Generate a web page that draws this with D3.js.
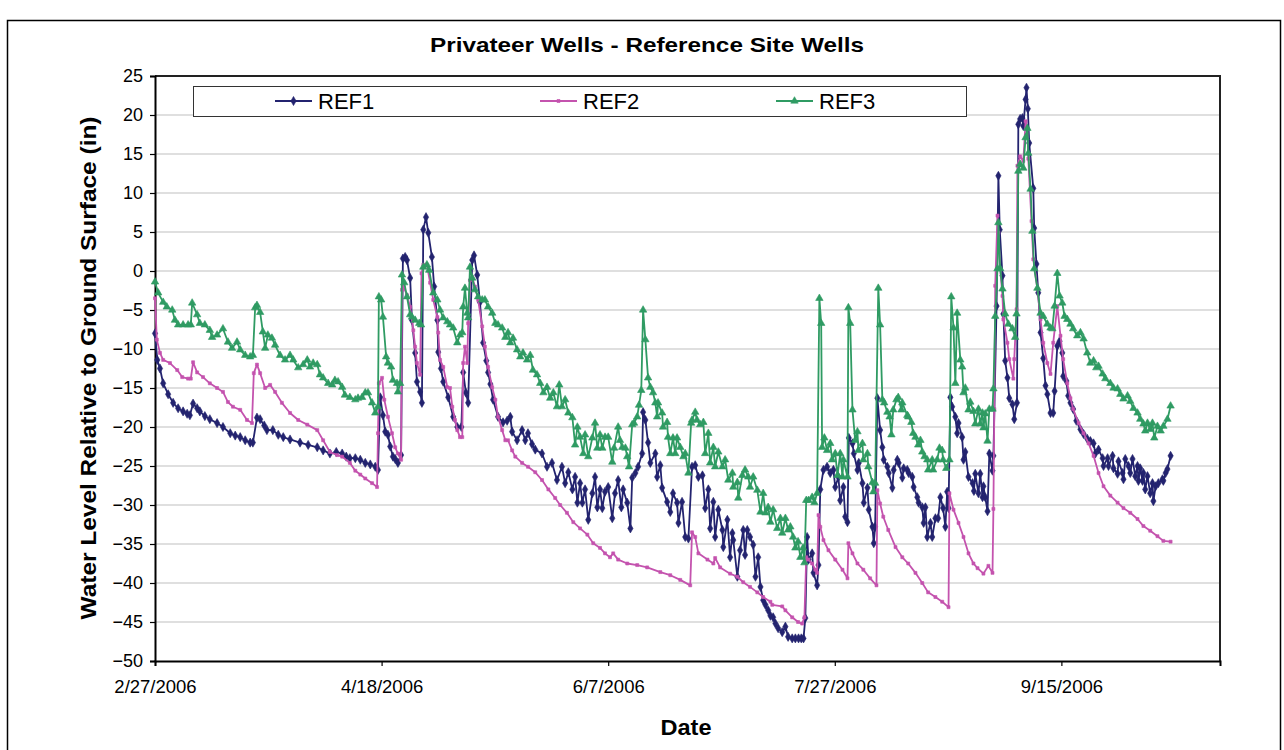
<!DOCTYPE html>
<html><head><meta charset="utf-8">
<script src="https://cdn.jsdelivr.net/npm/d3@7"></script>
<style>body{margin:0;background:#fff} svg{display:block} text{font-family:Arial,"Liberation Sans",sans-serif;fill:#000}</style>
</head><body><svg id="c" width="1284" height="750"></svg>
<script>
// ---- data (day offset from start date, water level in inches) ----
const startDate = "2006-02-27";
const endDay = 235;
const xTickDays = [0, 50, 100, 150, 200];
const yTicks = [25, 20, 15, 10, 5, 0, -5, -10, -15, -20, -25, -30, -35, -40, -45, -50];
const seriesNames = ["REF1", "REF2", "REF3"];
const seriesColors = ["#23236f", "#c453ae", "#2f9b63"];

const ref1 = [[0,-8],[0.5,-11.4],[1.1,-12.5],[1.8,-14.4],[2.9,-15.8],[4,-16.9],[5.1,-17.6],[6.2,-18],[7.1,-18.3],[7.7,-18.5],[8.4,-17],[9.3,-17.6],[9.9,-18],[11,-18.6],[12.1,-19],[13.7,-19.5],[15,-20],[16.6,-20.8],[17.7,-21.1],[18.8,-21.3],[19.9,-21.7],[21,-22],[21.6,-22],[22.5,-18.8],[23.2,-19],[24.1,-19.8],[24.7,-20.4],[26,-20.4],[27.2,-21],[28.3,-21.3],[29.8,-21.6],[32,-22],[33.8,-22.3],[35.8,-22.6],[37.1,-23],[38.6,-23.4],[40,-23.2],[41.3,-23.4],[42.2,-23.8],[43,-24],[44.2,-24],[45.3,-24.2],[46.4,-24.6],[47.5,-24.8],[48.6,-25.1],[49.2,-25.5],[49.7,-16.2],[50.3,-18.5],[50.8,-20.6],[51.4,-21],[51.9,-22.5],[52.5,-23.8],[53,-24.1],[53.6,-24.6],[54.3,-23.6],[54.7,1.6],[55.2,1.8],[55.6,1.4],[56.3,-0.9],[56.7,-6.3],[57.4,-10.5],[57.8,-14.2],[58.5,-15.5],[58.9,-16.9],[59.2,5.3],[59.8,6.9],[60.3,4.9],[61.1,1.8],[61.6,-2],[62.3,-6.3],[62.5,-10.4],[63.1,-12.5],[63.6,-14.2],[64.7,-16.2],[65.8,-18.7],[66.7,-20],[67.6,-20],[68,-13],[68.6,-15.6],[69.1,-16.9],[70,1.4],[70.4,2],[71.1,-0.5],[71.7,-4],[72.4,-9.2],[73.1,-11.5],[73.5,-13],[74,-14.5],[74.6,-16.5],[75.7,-18.7],[76.8,-19.4],[77.7,-19.2],[78.4,-18.7],[78.8,-20.6],[79.9,-21.7],[81,-20.4],[81.7,-21.7],[82.3,-20.8],[83.2,-22.2],[83.9,-22.9],[85.4,-23.4],[86.5,-25.1],[87.6,-24.6],[88.7,-26.8],[89.8,-25.1],[90.5,-27.2],[91.2,-25.8],[92.1,-28],[92.7,-26.4],[93.2,-29.7],[93.8,-27.2],[94.3,-29.7],[94.9,-28],[95.6,-31.9],[96.5,-28.5],[97.1,-26.4],[97.6,-30.3],[98.2,-28],[98.7,-30.4],[99.3,-28.3],[100,-27.7],[100.9,-31.7],[101.5,-28.5],[102.2,-26.8],[102.9,-30.3],[103.3,-28],[104.2,-29.7],[104.9,-33],[105.3,-26.5],[106,-25.9],[106.6,-25.1],[107.5,-23.4],[107.7,-18.1],[108.2,-19.1],[108.8,-22],[109.3,-24.6],[110.4,-23.4],[110.8,-26.4],[111.5,-24.9],[111.9,-27.8],[113,-29.6],[113.7,-30.9],[114.3,-28.5],[115.2,-29.7],[115.5,-32.3],[116.3,-29.6],[117,-34.1],[117.7,-34.3],[118.5,-25.1],[119.2,-24.9],[119.9,-26.4],[120.8,-26.2],[121.4,-30.4],[122.1,-28],[122.5,-33],[123.2,-29.6],[123.6,-34.1],[124.3,-30.6],[125.2,-33.2],[125.4,-35.4],[126.3,-31.9],[126.9,-36.7],[127.4,-33.6],[127.6,-34.5],[128.5,-39.2],[129.1,-35.8],[129.8,-33.2],[130.2,-36.4],[130.7,-33.2],[131.3,-34.1],[132,-35.1],[132.5,-39.2],[133.1,-36.7],[133.6,-40.5],[134.2,-42.2],[134.7,-42.8],[135.3,-43.5],[135.8,-44.2],[136.4,-44.4],[136.9,-45.2],[137.5,-45.8],[138.4,-46.3],[139.1,-45.6],[139.7,-46.9],[140.6,-47.1],[141.3,-47.1],[142,-47.1],[142.6,-47.1],[143.1,-47.1],[143.5,-44.5],[143.9,-34.1],[144.2,-37],[145,-36.2],[145.3,-38.7],[146.1,-40.3],[146.4,-37.7],[146.8,-28],[147.5,-25.5],[148.3,-25.1],[149,-25.9],[149.7,-25.5],[150.1,-27.7],[150.8,-26.4],[151.2,-29.4],[151.9,-27.7],[152.3,-31.5],[152.8,-32.2],[153.1,-21.4],[153.9,-22.1],[154.2,-23.4],[155,-25.5],[155.3,-24.6],[156.1,-27.2],[156.4,-29.7],[157.2,-27.8],[157.5,-30.6],[158.3,-32.8],[158.6,-34.9],[158.9,-32.8],[159.4,-16.3],[160,-20.4],[160.5,-22.6],[160.8,-24.2],[161.6,-25.1],[161.9,-25.9],[162.7,-27.8],[163,-25.5],[163.8,-24.2],[164.1,-24.6],[164.9,-26.5],[165.2,-25.3],[166,-25.5],[166.3,-25.9],[167.1,-26.4],[167.4,-27.7],[168.2,-29],[168.5,-29.7],[169.3,-30.3],[169.6,-32.3],[170,-30.3],[170.4,-34.1],[171.1,-32.3],[171.5,-34.1],[172.2,-31.7],[172.8,-31.7],[173.3,-29],[173.9,-30.4],[174.4,-32.8],[174.8,-28.3],[175.1,-30.4],[175.5,-16.2],[175.9,-17.4],[176.6,-18.7],[177,-20.8],[177.3,-19.5],[178.1,-21.3],[178.4,-24.2],[178.8,-23.2],[179.5,-26.4],[180.4,-27.2],[180.7,-28.2],[181,-26],[181.7,-28.5],[182.1,-26],[182.6,-29],[182.8,-27.6],[183.2,-29],[183.7,-30.8],[184.1,-23.4],[184.8,-25.6],[185,-23.7],[185.7,-4.5],[186.1,12.2],[186.4,5.3],[187,-0.6],[187.2,-5.5],[187.6,-11.5],[188.1,-13.7],[188.5,-16.3],[189.2,-17.1],[189.6,-19],[190.2,-16.9],[190.5,18.8],[190.9,19.5],[191.4,19.6],[191.6,18.6],[192.1,22],[192.3,23.5],[192.6,20.8],[192.9,16.4],[193.8,10.6],[194,5.5],[194.5,0.9],[194.9,-2.8],[195.4,-7.9],[196,-11.2],[196.5,-14.7],[196.9,-15.8],[197.6,-18.2],[198.2,-18.2],[198.5,-15.4],[199.1,-9.6],[199.6,-9],[200.2,-10.5],[200.4,-13.5],[201.1,-14.1],[201.5,-16],[202,-16.9],[202.6,-17.7],[203.3,-19.2],[204.2,-20.3],[204.9,-20.9],[205.7,-21.5],[206.4,-21.8],[207.1,-22.1],[207.5,-23.4],[208.2,-22.9],[209.1,-24],[209.3,-25],[210.2,-24],[210.4,-25],[211.3,-23.7],[211.5,-25.3],[212.4,-26],[212.6,-24.4],[213.5,-25.9],[213.7,-26.7],[214.1,-24.1],[214.8,-25],[215.2,-25.9],[215.7,-24.1],[216.3,-26.3],[216.8,-25],[217,-26.9],[217.4,-25.3],[217.9,-26.9],[218.1,-25.9],[218.5,-28],[219,-26.3],[219.6,-28.5],[220.1,-27.2],[220.3,-29.5],[220.8,-27.6],[221.4,-27.2],[222.3,-26.7],[222.5,-26.9],[223,-25.9],[223.4,-25.4],[224.1,-23.7]];

const ref2 = [[0,-3.5],[0.4,-8.8],[1.1,-10.5],[1.8,-11.4],[3.3,-11.8],[4.9,-12.7],[6,-13.6],[7.3,-13.8],[7.9,-13.8],[8.4,-11.7],[9.3,-13],[10.6,-13.6],[12.1,-14.4],[13.7,-15],[15,-15.5],[16.1,-16.8],[17.2,-17.4],[18.8,-17.8],[20.3,-19.1],[21.4,-19.5],[21.8,-13.1],[22.5,-12],[23.2,-13.1],[24.3,-15],[25.4,-14.6],[26.5,-15.5],[28,-16.9],[29.8,-18.2],[31.6,-19.1],[33.6,-19.7],[35.8,-20.4],[37.1,-21.7],[38.6,-23.2],[40.2,-23.6],[41.3,-23.8],[43,-24.6],[44.2,-25.6],[45.3,-26.1],[46.4,-26.6],[47.9,-27.2],[49,-27.7],[49.2,-20.8],[49.4,-14.4],[50.1,-13.7],[50.6,-16.5],[51.4,-18.7],[52.3,-20.8],[53,-22.6],[53.6,-23.4],[54.3,-24.2],[54.5,-2.4],[54.7,-1.8],[55.6,-3.1],[56.3,-4.6],[57,-7.6],[57.4,-9.7],[57.8,-11.8],[58.5,-13.3],[58.8,-0.3],[59.2,0.8],[60,0.8],[60.7,-1.5],[61.4,-3.7],[62.3,-5.9],[62.5,-7.9],[62.9,-11.4],[63.6,-12.3],[64.5,-14.9],[65.1,-15],[65.6,-17.4],[66.2,-19.1],[66.7,-20.4],[67.3,-21.3],[67.8,-21.3],[68,-11.8],[68.4,-9.7],[68.9,-11.8],[69.1,-6.7],[69.5,-1.2],[70,-0.8],[70.6,-2],[71.3,-3.7],[72.2,-7.1],[72.8,-9.7],[73.5,-12.3],[74.4,-14.9],[75.1,-16.5],[75.7,-18.7],[76.6,-20.4],[77.3,-21.7],[77.9,-21.7],[78.8,-23],[79.5,-23.8],[81,-24.6],[82.3,-25.1],[83.9,-25.8],[85.4,-26.8],[86.8,-28],[88.3,-29.1],[89.4,-30],[90.9,-31],[92.3,-32.2],[93.8,-33],[95.4,-33.8],[96.7,-34.9],[98.2,-35.5],[99.3,-36.2],[100.4,-36.7],[101.1,-36.2],[102.2,-37],[104.2,-37.5],[106.4,-37.7],[108.6,-38],[111.5,-38.6],[113.7,-39],[115.9,-39.6],[118.1,-40.3],[118.5,-33.5],[119.2,-34.1],[119.9,-36.2],[121.9,-37],[123.2,-37.5],[123.6,-36.8],[124.7,-38],[126.9,-38.8],[128.5,-39.2],[129.8,-39.9],[131.3,-40.5],[132.9,-41.2],[134.2,-41.8],[135.8,-42.4],[136.2,-42.8],[138.4,-43],[139.1,-43.5],[140.6,-44.4],[141.9,-45],[142.8,-45.2],[143.3,-44.4],[143.7,-36.7],[144.2,-37],[145,-37.5],[145.7,-38.3],[146.1,-38.7],[146.4,-31.3],[146.8,-32.8],[147.5,-34.5],[148.6,-35.8],[150.1,-37],[151.7,-38.3],[152.8,-39.4],[153,-34.9],[153.9,-36.2],[155,-37.5],[156.3,-38.3],[157.8,-39.4],[159.2,-40.3],[159.4,-28.1],[160,-29.8],[160.7,-31.5],[161.8,-33.2],[163.4,-35.4],[164.9,-36.7],[166.2,-37.5],[167.8,-38.7],[169.3,-40],[170.6,-41.2],[172.2,-41.8],[173.7,-42.4],[175.1,-43.1],[175.3,-28.5],[176.2,-30.6],[177.3,-32.3],[178.4,-34.1],[179.5,-36.2],[180.6,-37.5],[181.5,-38.1],[182.8,-38.8],[183.9,-37.8],[184.8,-38.7],[185,-30.5],[185.2,-17.7],[185.4,-1.9],[185.9,7.1],[186.1,4.9],[186.5,0.3],[187,-3.2],[187.2,-6.2],[188.1,-9.2],[188.5,-11.3],[189.4,-13.8],[189.6,-11.3],[190.1,-4.9],[190.3,13.5],[190.9,14.7],[191.6,14.1],[192.1,19.2],[192.5,18.2],[192.7,14.4],[193.4,6.4],[193.8,1.5],[194.7,-2.3],[195.4,-6.2],[196,-9.2],[196.9,-11.8],[197.6,-13.2],[198.2,-9.2],[199.1,-4.5],[199.8,-8.3],[200.4,-11.3],[201.3,-14.4],[202,-16.3],[202.6,-17.7],[203.8,-19.5],[204.9,-20.8],[206,-22.1],[207.1,-23.7],[208.2,-25.9],[209.3,-27.6],[210.8,-28.8],[212.4,-29.7],[213.7,-30.4],[215.2,-31],[216.8,-31.8],[218.1,-32.7],[219.6,-33.3],[221.2,-34],[222.5,-34.6],[224.1,-34.7]];

const ref3 = [[0,-1.4],[0.7,-2.8],[1.8,-4],[2.6,-4.6],[3.8,-5],[4.4,-6.3],[5.1,-6.9],[6.2,-6.9],[7.3,-6.9],[7.9,-6.9],[8.2,-4.1],[9.3,-5.6],[9.9,-6.7],[11,-6.9],[12.1,-7.6],[12.6,-8.5],[13.7,-8.2],[15,-7.4],[16.1,-9.1],[17,-9.9],[18.1,-9.1],[18.8,-10.1],[19.9,-10.8],[21,-11],[21.6,-10.8],[22.1,-4.7],[22.5,-4.4],[23.2,-5.3],[23.8,-7.8],[24.3,-9.9],[24.9,-8.2],[25.8,-8.6],[26.5,-9.5],[27.6,-10.8],[28.7,-11.4],[29.8,-10.8],[30.5,-11.4],[31.6,-12.4],[32.7,-12],[33.6,-11.4],[34.2,-12.3],[34.9,-11.8],[35.8,-12],[36.4,-13.3],[37.1,-13.7],[38.2,-14.4],[39.1,-14.6],[39.7,-14],[40.4,-14.2],[41.3,-14.9],[41.9,-15.9],[43,-16.2],[44.2,-16.5],[44.8,-16.3],[45.7,-16.2],[46.4,-15.6],[47,-15.6],[47.9,-16.9],[48.6,-18.2],[49.2,-17.4],[49.4,-3.3],[49.9,-3.7],[50.3,-5.9],[51,-11],[51.4,-11.8],[52.1,-12.3],[52.5,-14],[53.4,-14.4],[53.6,-15.5],[54.1,-14.4],[54.5,-0.5],[55,-1.5],[55.6,-3.3],[56.3,-5.6],[56.7,-5.9],[57.4,-6.3],[58.3,-6.7],[58.7,-6.9],[59.2,0.5],[60,0.8],[60.5,0.1],[61.4,-2.8],[62.3,-3.7],[62.9,-5],[63.6,-6],[64.5,-6.5],[65.1,-6.9],[65.8,-7.3],[66.7,-9.2],[67.3,-8.2],[67.8,-7.9],[68,-4.6],[68.4,-2.2],[68.9,-5.4],[69.1,-6],[69.5,0.5],[70,-0.9],[70.6,-2.4],[71.3,-3.3],[72.2,-3.7],[72.8,-3.7],[73.5,-4.6],[74.4,-5.4],[75.1,-6.7],[75.7,-6.9],[76.6,-7.3],[77.3,-8.5],[77.9,-7.9],[78.4,-9.2],[79,-8.6],[79.9,-10.1],[80.6,-11],[81.2,-10.5],[82.1,-11.4],[82.8,-10.8],[83.4,-12.7],[84.3,-13.3],[85,-14.4],[85.7,-15.6],[86.5,-14.9],[87.2,-16.3],[87.9,-15.6],[88.7,-17.4],[89.2,-14.6],[89.8,-17.4],[90.5,-16.5],[91.2,-18.2],[92.1,-18.8],[92.7,-22.3],[93.2,-20],[93.8,-21.3],[94.5,-23.4],[94.9,-21],[95.6,-23.8],[96.5,-21.4],[97.1,-19.5],[97.6,-22.7],[98.2,-21],[98.7,-22.7],[99.3,-21.3],[100,-21.3],[100.9,-24.5],[101.3,-22.7],[102.2,-20],[102.6,-21.7],[103.1,-22.6],[103.8,-22.7],[104.2,-23.8],[104.6,-25.1],[105.3,-19.7],[105.7,-19.5],[106.4,-18.7],[106.8,-17.2],[107.3,-15.3],[107.7,-5],[108.2,-8.8],[108.8,-13.7],[109.3,-14.9],[109.9,-15.6],[110.4,-16.9],[110.8,-18.7],[111,-16.9],[111.9,-18.2],[112.1,-20],[113,-19.4],[113.2,-21.3],[113.7,-23.4],[114.3,-21.4],[114.8,-23.4],[115.2,-21.4],[115.9,-22.6],[116.6,-23.8],[117,-23.4],[117.7,-25.9],[118.3,-19.5],[118.5,-19.1],[119.2,-18.1],[119.6,-19.1],[120.3,-19.7],[121,-19.4],[121.4,-23.4],[122.1,-20.8],[122.5,-24.6],[123.2,-22.6],[123.6,-25.1],[124.3,-23.2],[125.2,-25.1],[125.8,-24.2],[126.5,-26.8],[127.4,-25.9],[127.6,-27.7],[128.5,-27.1],[128.7,-29.1],[129.6,-26.2],[130.2,-25.5],[130.9,-26.4],[131.3,-27.7],[132,-26.4],[132.9,-28.1],[133.6,-30.9],[134.2,-28.5],[134.7,-31],[135.3,-30.3],[135.8,-32.2],[136.4,-30.6],[137.3,-33],[138,-31.7],[138.4,-33.6],[139.1,-31.7],[139.7,-33.2],[140.2,-32.8],[140.8,-34.1],[141.3,-35.5],[141.9,-34.7],[142.4,-36.7],[143,-35.5],[143.3,-37.4],[143.7,-29.4],[144.2,-29.4],[145,-29],[145.5,-29.7],[146.1,-28.5],[146.6,-3.5],[147,-6.7],[147.2,-22.6],[147.7,-21.4],[148.3,-23],[149,-22.1],[149.4,-24.2],[150.1,-23.4],[150.6,-26.2],[151.2,-23.4],[151.7,-26.4],[151.9,-24.2],[152.8,-26.4],[153,-4.7],[153.4,-6.7],[153.9,-17.8],[154.5,-21.7],[155,-20.6],[155.2,-23],[156.1,-22.1],[156.3,-24.2],[157.2,-23.4],[157.4,-25.1],[158.3,-27.1],[158.5,-28.3],[158.9,-27.2],[159.6,-2.2],[160,-6.9],[160.5,-16.5],[160.9,-16.9],[161.6,-18.1],[162.1,-18.7],[162.5,-21],[162.9,-17.8],[163.6,-16.5],[164,-16.2],[164.7,-17.8],[164.9,-16.9],[166,-18.5],[166.2,-18.7],[166.9,-19.4],[167.3,-20.8],[167.8,-21.3],[168.4,-22.3],[168.9,-21.7],[169.3,-23.2],[169.8,-23.8],[170.4,-24.2],[170.6,-25.5],[171.5,-24.2],[171.7,-25.5],[172.6,-24.2],[173.1,-22.7],[173.7,-23],[173.9,-24.2],[174.6,-25.3],[175.3,-24.2],[175.7,-3.3],[176.2,-7.3],[176.6,-14.4],[177,-5.4],[177.7,-11.4],[178.1,-12.3],[178.4,-15.6],[178.8,-15],[179.5,-17.8],[179.9,-16.8],[180.6,-18],[181,-19.6],[181.7,-17.7],[182.1,-19.6],[182.6,-18.2],[182.8,-20.1],[183.2,-18.3],[183.7,-21.8],[184.1,-17.7],[184.8,-17.7],[185,-15.1],[185.4,-5.8],[185.9,0.3],[186.1,6.2],[186.5,0.3],[187,-2.3],[187.6,-5.5],[188.3,-6.8],[189.2,-7.4],[189.8,-8.5],[190.1,-5.5],[190.5,12.8],[190.9,13.7],[191.6,13.2],[192.1,17.1],[192.5,18.3],[192.7,15.1],[193.2,10.5],[193.6,5.1],[194,0.3],[194.7,-2.2],[195.4,-5.4],[196,-5.8],[196.9,-6.8],[197.6,-7.3],[198,-7.4],[198.5,-4.5],[199.1,-0.3],[199.6,-3.2],[200.2,-4.1],[200.7,-5.8],[201.3,-6.2],[202,-6.8],[202.6,-7.4],[203.5,-8.3],[204.2,-7.9],[204.9,-8.7],[205.7,-10.5],[206.4,-11.8],[207.1,-11.5],[207.7,-12.4],[208.2,-12.2],[209.1,-13.2],[209.7,-13.8],[210.8,-14.4],[211.5,-15],[212.4,-15.1],[213,-15.8],[213.7,-16.4],[214.6,-16],[215.2,-16.7],[215.9,-17.6],[216.8,-18.2],[217.4,-19],[218.1,-19.6],[218.5,-20.5],[219,-19.5],[219.6,-20.3],[220.1,-19.5],[220.5,-21.4],[221.2,-19.9],[221.9,-20.5],[222.5,-19.9],[223.4,-19],[224.1,-17.3]];

// ---- drawing ----
const svg = d3.select("#c");
const W = 1284, H = 750;
const m = {left: 155, right: 1220, top: 76, bottom: 661};
const DAY = 86400000;
const t0 = new Date(startDate + "T00:00:00Z");
const toDate = d => new Date(t0.getTime() + d * DAY);
const FONT = "Arial, 'Liberation Sans', sans-serif";

const x = d3.scaleUtc().domain([t0, toDate(endDay)]).range([m.left, m.right]);
const y = d3.scaleLinear().domain([-50, 25]).range([m.bottom, m.top]);

svg.append("rect").attr("x", 0).attr("y", 0).attr("width", W).attr("height", H).attr("fill", "#fff");
// outer chart border
svg.append("rect").attr("x", 7.5).attr("y", 20.5).attr("width", 1273).attr("height", 760)
  .attr("fill", "none").attr("stroke", "#000").attr("stroke-width", 1.5);

// title
svg.append("text").attr("x", 647).attr("y", 52).attr("text-anchor", "middle")
  .style("font-size", "21px").style("font-weight", "bold")
  .attr("textLength", 434).attr("lengthAdjust", "spacingAndGlyphs")
  .text("Privateer Wells - Reference Site Wells");

// gridlines
svg.append("g").selectAll("line").data(yTicks.filter(v => v > -50)).join("line")
  .attr("x1", m.left).attr("x2", m.right)
  .attr("y1", d => y(d)).attr("y2", d => y(d))
  .attr("stroke", "#c0c0c0").attr("stroke-width", 1.2);

// plot border (top/right)
svg.append("path")
  .attr("d", `M${m.left},${m.top}H${m.right}V${m.bottom}`)
  .attr("fill", "none").attr("stroke", "#222").attr("stroke-width", 2);

// legend box (drawn before series)
const lg = svg.append("g");
lg.append("rect").attr("x", 193.5).attr("y", 86.5).attr("width", 773).attr("height", 30)
  .attr("fill", "#fff").attr("stroke", "#333").attr("stroke-width", 1);

// axes
const yAxis = d3.axisLeft(y).tickValues(yTicks).tickSize(5).tickPadding(7).tickFormat(d3.format("d"));
const gy = svg.append("g").attr("transform", `translate(${m.left},0)`).call(yAxis);
gy.select(".domain").attr("stroke", "#000").attr("stroke-width", 2);
gy.selectAll(".tick line").attr("stroke", "#000").attr("stroke-width", 1.2);
gy.selectAll(".tick text").style("font-size", "18px").style("font-family", FONT).attr("fill", "#000");

const xAxis = d3.axisBottom(x).tickValues(xTickDays.map(toDate)).tickSize(5).tickPadding(14)
  .tickFormat(d3.utcFormat("%-m/%-d/%Y"));
const gx = svg.append("g").attr("transform", `translate(0,${m.bottom})`).call(xAxis);
gx.select(".domain").attr("stroke", "#000").attr("stroke-width", 2);
gx.selectAll(".tick line").attr("stroke", "#000").attr("stroke-width", 1.2);
gx.selectAll(".tick text").style("font-size", "18.5px").style("font-family", FONT).attr("fill", "#000");

// axis titles
svg.append("text").attr("x", 686).attr("y", 735).attr("text-anchor", "middle")
  .style("font-size", "22px").style("font-weight", "bold")
  .attr("textLength", 51).attr("lengthAdjust", "spacingAndGlyphs").text("Date");
svg.append("text").attr("transform", "translate(96,368) rotate(-90)").attr("text-anchor", "middle")
  .style("font-size", "22px").style("font-weight", "bold")
  .attr("textLength", 503).attr("lengthAdjust", "spacingAndGlyphs")
  .text("Water Level Relative to Ground Surface (in)");

// series
const seriesData = [ref1, ref2, ref3];
const symbols = [d3.symbolDiamond, d3.symbolSquare, d3.symbolTriangle];
const symSizes = [24, 9, 24];
const line = d3.line().x(d => x(toDate(d[0]))).y(d => y(d[1]));

seriesData.forEach((data, i) => {
  const g = svg.append("g");
  g.append("path").datum(data).attr("d", line)
    .attr("fill", "none").attr("stroke", seriesColors[i]).attr("stroke-width", 1.8)
    .attr("stroke-linejoin", "round");
  const sym = d3.symbol().type(symbols[i]).size(symSizes[i]);
  g.selectAll("path.m").data(data).join("path").attr("class", "m")
    .attr("transform", d => `translate(${x(toDate(d[0]))},${y(d[1])})`)
    .attr("d", sym).attr("fill", seriesColors[i]).attr("stroke", seriesColors[i]).attr("stroke-width", 0.6);
});

// legend entries
const legX = [275, 540, 776];
seriesNames.forEach((name, i) => {
  const g = lg.append("g").attr("transform", `translate(${legX[i]},101)`);
  g.append("line").attr("x1", 0).attr("x2", 37).attr("y1", 0).attr("y2", 0)
    .attr("stroke", seriesColors[i]).attr("stroke-width", 1.8);
  g.append("path").attr("transform", "translate(18.5,0)")
    .attr("d", d3.symbol().type(symbols[i]).size(symSizes[i])())
    .attr("fill", seriesColors[i]).attr("stroke", seriesColors[i]).attr("stroke-width", 0.6);
  g.append("text").attr("x", 43).attr("y", 8).style("font-size", "22px").text(name);
});
</script></body></html>
